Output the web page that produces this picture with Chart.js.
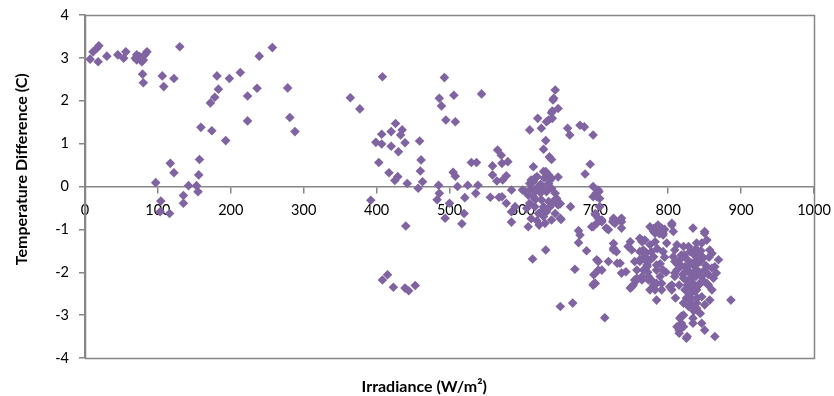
<!DOCTYPE html>
<html>
<head>
<meta charset="utf-8">
<script src="https://cdn.jsdelivr.net/npm/chart.js@4"></script>
<style>
html,body{margin:0;padding:0;background:#fff;}
#wrap{width:834px;height:396px;position:relative;}
</style>
</head>
<body>
<div id="wrap"><canvas id="c" width="834" height="396"></canvas></div>
<script>
// Irradiance (W/m²) and temperature difference (C)
const irradiance = [
7,11,16,19,18,30,45,53,56,69,71,75,80,82,85,78,71,79,80,130,106,108,122,181,183,178,172,198,213,223,236,239,257,223,278,281,288,159,174,193,117,122,157,156,97,142,153,155,135,135,104,103,116,
364,377,408,493,486,489,506,544,495,508,426,435,420,407,433,399,407,420,439,430,459,403,461,460,417,429,425,442,463,457,485,511,525,539,530,537,505,508,559,566,571,572,580,559,565,578,573,392,440,415,408,423,439,444,453,486,483,494,500,521,536,520,517,556,568,572,585,578,585,585,590,
615,610,621,626,632,629,637,640,633,641,641,649,642,643,645,640,636,662,665,679,685,697,693,686,632,636,620,615,638,649,617,629,640,610,622,604,608,615,610,617,606,622,629,633,638,642,647,645,640,636,633,649,645,640,631,623,608,652,666,617,626,629,612,618,625,630,628,636,612,620,600,652,612,625,630,653,
677,679,677,688,632,614,672,702,704,698,698,652,669,713,
697,704,702,706,700,702,709,715,695,701,705,697,706,704,700,709,697,
718,725,736,736,748,725,729,718,704,709,697,734,736,748,752,761,768,766,761,771,757,764,757,773,724,734,725,745,764,761,761,754,725,736,727,750,725,730,742,757,766,768,766,764,700,
784,780,791,786,775,793,805,807,834,850,853,846,782,798,812,821,764,777,793,807,818,830,839,857,869,864,860,771,784,793,812,823,832,839,850,750,764,777,789,809,821,832,846,862,775,784,805,823,830,839,846,860,857,886,832,839,821,816,834,844,812,815,826,850,864,818,829,834,826,839,848,816,802,782,791,768,754,866,853,850,825,
782,793,805,775,780,784,773,784,791,809,809,809,805,826,830,839,850,847,843,830,839,818,821,815,834,846,821,
787,790,783,795,788,780,770,776,789,795,785,772,797,780,
822,826,830,835,840,828,833,838,843,826,832,837,842,848,820,818,836,845,852,855,830,825,828,835,840,855,860,856,812,815,810,838,828,845
];
const tempDiff = [
2.97,3.14,3.22,3.28,2.91,3.04,3.07,2.99,3.14,2.99,3.07,3.03,2.95,3.07,3.14,2.91,2.95,2.62,2.42,3.26,2.58,2.33,2.52,2.58,2.27,2.08,1.95,2.52,2.66,2.11,2.29,3.04,3.24,1.53,2.30,1.61,1.28,1.38,1.30,1.07,0.54,0.32,0.63,0.27,0.09,0.02,0.02,-0.12,-0.21,-0.39,-0.34,-0.59,-0.63,
2.07,1.81,2.56,2.54,2.06,1.88,2.13,2.16,1.55,1.51,1.47,1.32,1.28,1.22,1.20,1.03,0.99,0.94,1.02,0.81,1.06,0.56,0.62,0.36,0.32,0.23,0.14,0.07,0.11,-0.04,0.03,0.00,0.03,0.03,0.56,0.56,0.33,0.24,0.48,0.85,0.73,0.54,0.58,0.27,0.13,0.25,0.15,-0.32,-0.92,-2.06,-2.18,-2.35,-2.37,-2.43,-2.31,-0.16,-0.31,-0.74,-0.39,-0.26,-0.16,-0.63,-0.87,-0.25,-0.25,-0.24,-0.08,-0.39,-0.59,-0.83,-0.47,
0.46,1.32,1.59,1.36,1.07,0.87,0.69,0.63,1.51,1.59,1.76,1.82,2.02,2.06,2.25,1.72,1.55,1.36,1.20,1.43,1.39,1.20,0.52,0.29,0.35,0.27,0.23,0.11,0.15,0.22,0.19,0.35,0.19,0.07,0.00,-0.12,-0.20,-0.24,-0.39,-0.47,-0.51,-0.63,-0.70,-0.59,-0.47,-0.35,-0.28,-0.16,-0.04,0.07,-0.12,-0.43,-0.63,-0.78,-0.86,-0.90,-0.94,-0.74,-0.47,-0.12,-0.31,-0.47,-0.05,-0.30,-0.15,-0.05,-0.55,-0.35,-0.75,-0.80,-0.08,-0.40,0.15,0.05,0.20,-0.77,
-1.03,-1.13,-1.31,-1.50,-1.48,-1.69,-1.93,-1.71,-1.95,-2.06,-2.27,-2.80,-2.72,-3.06,
0.00,-0.08,-0.24,-0.47,-0.66,-0.86,-0.78,-0.97,-0.94,-0.16,-0.12,-0.24,-0.28,-0.74,-0.63,-0.82,-0.94,
-1.01,-0.78,-0.82,-0.97,-1.29,-1.44,-1.52,-1.75,-1.75,-1.95,-2.30,-1.79,-2.02,-2.37,-2.30,-1.21,-1.25,-1.48,-1.71,-1.83,-1.95,-2.10,-2.18,-2.10,-0.82,-0.78,-1.33,-1.40,-1.29,-1.52,-1.75,-2.18,-0.74,-0.74,-0.86,-1.48,-1.48,-1.79,-1.99,-2.14,-1.95,-1.71,-1.52,-1.25,-2.26,
-0.94,-1.05,-0.97,-0.90,-0.94,-1.09,-0.86,-1.05,-0.97,-1.05,-1.25,-1.32,-1.29,-1.32,-1.36,-1.40,-1.52,-1.52,-1.52,-1.64,-1.60,-1.52,-1.56,-1.48,-1.71,-1.87,-1.56,-1.87,-1.83,-1.95,-1.95,-1.87,-1.79,-1.95,-1.95,-2.34,-2.18,-2.18,-2.10,-2.10,-2.14,-2.14,-2.10,-2.14,-2.41,-2.65,-2.41,-2.41,-2.57,-2.41,-2.57,-2.41,-2.65,-2.65,-2.76,-2.84,-3.00,-3.07,-3.07,-2.96,-3.27,-3.42,-3.50,-3.35,-3.50,-3.19,-1.99,-2.26,-2.30,-1.71,-1.67,-1.71,-2.34,-2.41,-2.26,-1.64,-1.75,-2.02,-2.26,-2.76,-3.54,
-1.09,-1.13,-0.90,-1.36,-1.64,-1.95,-2.18,-2.26,-2.41,-1.48,-1.75,-2.02,-2.30,-1.95,-2.26,-1.32,-1.09,-1.64,-2.26,-2.65,-2.72,-3.03,-3.27,-3.35,-3.19,-3.19,-2.72,
-1.00,-1.03,-1.02,-1.00,-1.10,-0.98,-1.55,-1.70,-1.80,-1.65,-1.45,-2.00,-2.00,-2.30,
-1.60,-1.70,-1.80,-1.85,-1.80,-2.00,-2.05,-2.10,-2.00,-2.20,-2.35,-2.45,-2.30,-2.20,-2.05,-1.85,-1.60,-1.75,-1.85,-2.05,-2.50,-2.60,-2.80,-2.90,-2.60,-2.30,-1.90,-1.65,-1.80,-2.30,-2.60,-1.45,-1.40,-1.50
];
const xTicks = [0,100,200,300,400,500,600,700,800,900,1000];
const yTicks = [-4,-3,-2,-1,0,1,2,3,4];
const xTitle = 'Irradiance (W/m\u00B2)';
const yTitle = 'Temperature Difference (C)';

const points = irradiance.map((x, i) => ({x: x, y: tempDiff[i]}));
const AXIS = '#868686';
const FONT = 'Lato, "Open Sans", sans-serif';
const NBSP = '\u00A0';

const framePlugin = {
  id: 'frame',
  beforeDatasetsDraw(chart) {
    const a = chart.chartArea, ctx = chart.ctx;
    ctx.save();
    ctx.strokeStyle = AXIS;
    ctx.lineWidth = 1.5;
    ctx.strokeRect(Math.round(a.left) + 0.5, Math.round(a.top) + 0.5, Math.round(a.right - a.left), Math.round(a.bottom - a.top));
    ctx.restore();
  }
};

new Chart(document.getElementById('c'), {
  type: 'scatter',
  data: {
    datasets: [{
      data: points,
      pointStyle: 'rectRot',
      pointRadius: 4.8,
      pointHoverRadius: 4.8,
      pointBorderWidth: 0,
      backgroundColor: '#8064A2',
      borderColor: '#8064A2'
    }]
  },
  options: {
    responsive: false,
    animation: false,
    events: [],
    layout: {padding: {top: 15, right: 20, left: 0, bottom: 0}},
    plugins: {legend: {display: false}, tooltip: {enabled: false}},
    scales: {
      x: {
        type: 'linear',
        position: {y: 0},
        min: 0, max: 1000,
        afterBuildTicks(s) { s.ticks = xTicks.map(v => ({value: v})); },
        ticks: {color: '#000', font: {family: FONT, size: 14.5}, padding: 9, maxRotation: 0, autoSkip: false,
                callback: v => String(v)},
        grid: {display: true, drawOnChartArea: false, drawTicks: true, tickLength: 6, color: AXIS, lineWidth: 1.5},
        border: {display: true, color: AXIS, width: 1.5},
        afterFit(s) { s.paddingLeft = 0; s.paddingRight = 0; s.paddingTop = 0; s.paddingBottom = 0; }
      },
      x2: {
        type: 'linear',
        position: 'bottom',
        axis: 'x',
        min: 0, max: 1000,
        ticks: {display: false},
        grid: {display: false, drawTicks: false},
        border: {display: false},
        title: {display: true, text: xTitle + NBSP.repeat(13), color: '#000', font: {family: FONT, size: 16, weight: 'bold'}, padding: {top: 0, bottom: 0}},
        afterFit(s) { s.height = 38; s.paddingLeft = 0; s.paddingRight = 0; }
      },
      y: {
        type: 'linear',
        position: 'left',
        min: -4, max: 4,
        afterBuildTicks(s) { s.ticks = yTicks.map(v => ({value: v})); },
        ticks: {color: '#000', font: {family: FONT, size: 14.5}, padding: 10, callback: v => String(v)},
        grid: {display: true, drawOnChartArea: false, drawTicks: true, tickLength: 6, color: AXIS, lineWidth: 1.5},
        border: {display: true, color: AXIS, width: 1.5},
        title: {display: true, text: NBSP.repeat(9) + yTitle, color: '#000', font: {family: FONT, size: 16, weight: 'bold'}, padding: {top: 12, bottom: 0}},
        afterFit(s) { s.width = 85; s.paddingTop = 0; s.paddingBottom = 0; }
      }
    }
  },
  plugins: [framePlugin]
});
</script>
</body>
</html>
